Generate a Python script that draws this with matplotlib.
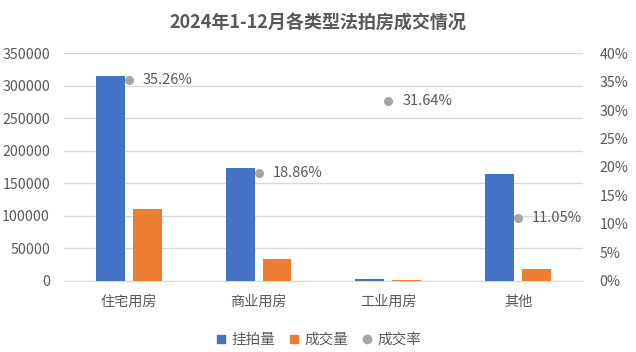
import numpy as np
import matplotlib.pyplot as plt
from matplotlib.ticker import FuncFormatter
from matplotlib.lines import Line2D

plt.rcParams['font.family'] = ['Noto Sans CJK SC', 'DejaVu Sans']

categories = ['住宅用房', '商业用房', '工业用房', '其他']
listed = [315000, 173500, 3000, 164200]
sold = [111000, 32700, 950, 18150]
rate = [0.3526, 0.1886, 0.3164, 0.1105]
rate_labels = ['35.26%', '18.86%', '31.64%', '11.05%']

blue = '#4472C4'
orange = '#ED7D31'
grey = '#A5A5A5'
text_col = '#595959'

fig = plt.figure(figsize=(6.36, 3.52), dpi=100)
ax = fig.add_axes([0.1006, 0.2026, 0.816, 0.646])
ax2 = ax.twinx()

x = np.arange(len(categories))
w = 0.223
ax.bar(x - 0.142, listed, width=w, color=blue, zorder=3)
ax.bar(x + 0.142, sold, width=w, color=orange, zorder=3)

ax.set_xlim(-0.5, len(categories) - 0.5)
ax.set_ylim(0, 350000)
ax.set_yticks(range(0, 350001, 50000))
ax.yaxis.grid(True, color='#D9D9D9', linewidth=1, zorder=0)
ax.set_xticks(x)
ax.set_xticklabels(categories)

ax2.scatter(x, rate, s=30, color=grey, zorder=4)
for xi, r, lab in zip(x, rate, rate_labels):
    ax2.annotate(lab, (xi, r), xytext=(10, 0), textcoords='offset points',
                 va='center', ha='left', fontsize=10.5, color=text_col)
ax2.set_ylim(0, 0.40)
ax2.set_yticks(np.arange(0, 0.401, 0.05))
ax2.yaxis.set_major_formatter(FuncFormatter(lambda v, p: f'{v * 100:.0f}%'))

for a in (ax, ax2):
    for s in a.spines.values():
        s.set_visible(False)
    a.tick_params(length=0, labelsize=10.2, colors=text_col)
ax.spines['bottom'].set_visible(True)
ax.spines['bottom'].set_color('#D9D9D9')
ax.tick_params(axis='x', pad=10)
ax.tick_params(axis='y', pad=10)
ax2.tick_params(axis='y', pad=12)

fig.suptitle('2024年1-12月各类型法拍房成交情况', fontsize=13, fontweight='bold',
             color=text_col, y=0.96)

handles = [
    Line2D([], [], marker='s', linestyle='', color=blue, markersize=6),
    Line2D([], [], marker='s', linestyle='', color=orange, markersize=6),
    Line2D([], [], marker='o', linestyle='', color=grey, markersize=6),
]
fig.legend(handles, ['挂拍量', '成交量', '成交率'], loc='center', ncol=3,
           bbox_to_anchor=(0.5, 0.035), frameon=False, fontsize=10.5,
           handlelength=0.8, handletextpad=0.3, columnspacing=0.9,
           labelcolor=text_col)

fig.savefig('out.png', dpi=100)
